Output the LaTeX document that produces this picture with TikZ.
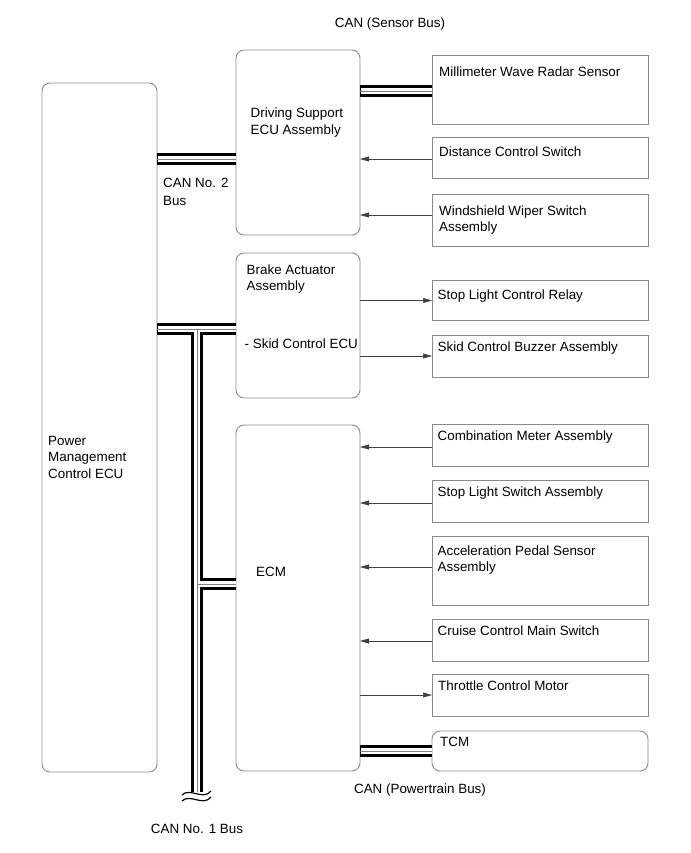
\documentclass[tikz,border=0pt]{standalone}
\usepackage{fontspec}
\setmainfont{Liberation Sans}
\usetikzlibrary{arrows.meta}
\definecolor{boxgray}{HTML}{8A8A8A}
\definecolor{busthin}{HTML}{808080}
\newcommand\diagfont{\fontsize{13.4}{16}\selectfont}
\begin{document}
\begin{tikzpicture}[x=1pt,y=-1pt,
  rbox/.style={draw=boxgray, line width=0.9pt, rounded corners=8pt, inner sep=0pt, outer sep=0pt, anchor=north west},
  sbox/.style={draw=boxgray, line width=0.9pt, inner sep=0pt, outer sep=0pt, anchor=north west, minimum width=216},
  lbl/.style={anchor=base west, inner sep=0pt, font=\diagfont},
  clbl/.style={anchor=base, inner sep=0pt, font=\diagfont},
  sig/.style={draw=black!75, line width=0.5pt, -{Triangle[length=9pt,width=5pt]}},
  busblack/.style={line width=12pt, draw=black},
  buswhite/.style={line width=6pt, draw=white, shorten <=0.5pt, shorten >=0.5pt},
  busgray/.style={line width=0.8pt, draw=busthin},
]
\useasboundingbox (0,0) rectangle (690,853);

% ECUs (rounded)
\node[rbox, minimum width=115, minimum height=689] (pm) at (42,83) {};
\node[rbox, minimum width=124, minimum height=185] (ds) at (236,50) {};
\node[rbox, minimum width=124, minimum height=145] (ba) at (236,253) {};
\node[rbox, minimum width=124, minimum height=346] (ecm) at (236,425) {};

% peripheral boxes
\node[sbox, minimum height=69] (radar) at (432,55) {};
\node[sbox, minimum height=41] (dcs) at (432,137) {};
\node[sbox, minimum height=52] (wws) at (432,194) {};
\node[sbox, minimum height=40] (slr) at (432,280) {};
\node[sbox, minimum height=42] (scb) at (432,335) {};
\node[sbox, minimum height=42] (cma) at (432,424) {};
\node[sbox, minimum height=42] (sls) at (432,480) {};
\node[sbox, minimum height=69] (aps) at (432,536) {};
\node[sbox, minimum height=42] (ccm) at (432,619) {};
\node[sbox, minimum height=42] (thr) at (432,674) {};
\node[rbox, minimum width=216, minimum height=40] (tcm) at (432,731) {};

% texts
\node[clbl] (tsens) at (390,28) {CAN (Sensor Bus)};
\node[lbl] (tds1) at (250.5,117.5) {Driving Support};
\node[lbl] (tds2) at (250.5,134.5) {ECU Assembly};
\node[lbl] (tcan2a) at (163,187) {CAN No. 2};
\node[lbl] (tcan2b) at (163,205) {Bus};
\node[lbl] (tba1) at (246.5,274) {Brake Actuator};
\node[lbl] (tba2) at (246.5,290) {Assembly};
\node[lbl] (tba3) at (244.5,348.5) {- Skid Control ECU};
\node[lbl] (tpm1) at (48,445) {Power};
\node[lbl] (tpm2) at (48,461.5) {Management};
\node[lbl] (tpm3) at (48,478) {Control ECU};
\node[lbl] (tecm) at (256,576) {ECM};
\node[lbl] (tradar) at (439,76.5) {Millimeter Wave Radar Sensor};
\node[lbl] (tdcs) at (439,157) {Distance Control Switch};
\node[lbl] (twws1) at (439,215) {Windshield Wiper Switch};
\node[lbl] (twws2) at (439,231) {Assembly};
\node[lbl] (tslr) at (437.5,299) {Stop Light Control Relay};
\node[lbl] (tscb) at (437.5,351) {Skid Control Buzzer Assembly};
\node[lbl] (tcma) at (437.5,440) {Combination Meter Assembly};
\node[lbl] (tsls) at (437.5,496) {Stop Light Switch Assembly};
\node[lbl] (taps1) at (437.5,555) {Acceleration Pedal Sensor};
\node[lbl] (taps2) at (437.5,571) {Assembly};
\node[lbl] (tccm) at (437.5,635) {Cruise Control Main Switch};
\node[lbl] (tthr) at (438,690.5) {Throttle Control Motor};
\node[lbl] (ttcm) at (440,746.5) {TCM};
\node[clbl] (tpt) at (420,793) {CAN (Powertrain Bus)};
\node[clbl] (tcan1) at (197,833) {CAN No. 1 Bus};

% signal arrows
\coordinate (a1) at (0,159);
\coordinate (a2) at (0,215);
\coordinate (a3) at (0,300.5);
\coordinate (a4) at (0,356);
\coordinate (a5) at (0,447);
\coordinate (a6) at (0,503);
\coordinate (a7) at (0,567);
\coordinate (a8) at (0,641);
\coordinate (a9) at (0,695);
\draw[sig] (dcs.west |- a1) -- (ds.east |- a1);
\draw[sig] (wws.west |- a2) -- (ds.east |- a2);
\draw[sig] (ba.east |- a3) -- (slr.west |- a3);
\draw[sig] (ba.east |- a4) -- (scb.west |- a4);
\draw[sig] (cma.west |- a5) -- (ecm.east |- a5);
\draw[sig] (sls.west |- a6) -- (ecm.east |- a6);
\draw[sig] (aps.west |- a7) -- (ecm.east |- a7);
\draw[sig] (ccm.west |- a8) -- (ecm.east |- a8);
\draw[sig] (ecm.east |- a9) -- (thr.west |- a9);

% buses
\coordinate (yS) at (0,91);
\coordinate (y2) at (0,159.5);
\coordinate (yB) at (0,329);
\coordinate (yT) at (0,751);
\coordinate (jB) at (197,329);
\coordinate (jE) at (197,584);
\coordinate (jEnd) at (197,792);
\foreach \st in {busblack,buswhite,busgray}{
  \draw[\st] (ds.east |- yS) -- (radar.west |- yS);
  \draw[\st] (pm.east |- y2) -- (ds.west |- y2);
  \draw[\st] (pm.east |- yB) -- (ba.west |- yB);
  \draw[\st] (jB) -- (jEnd);
  \draw[\st] (jE) -- (ecm.west |- jE);
  \draw[\st] (ecm.east |- yT) -- (tcm.west |- yT);
}
% break mark
\draw[line width=1.2pt] (182,795) .. controls (190,787) and (203,801) .. (211,791);
\draw[line width=1.2pt] (182,801) .. controls (190,793) and (203,807) .. (211,797);
\end{tikzpicture}
\end{document}
